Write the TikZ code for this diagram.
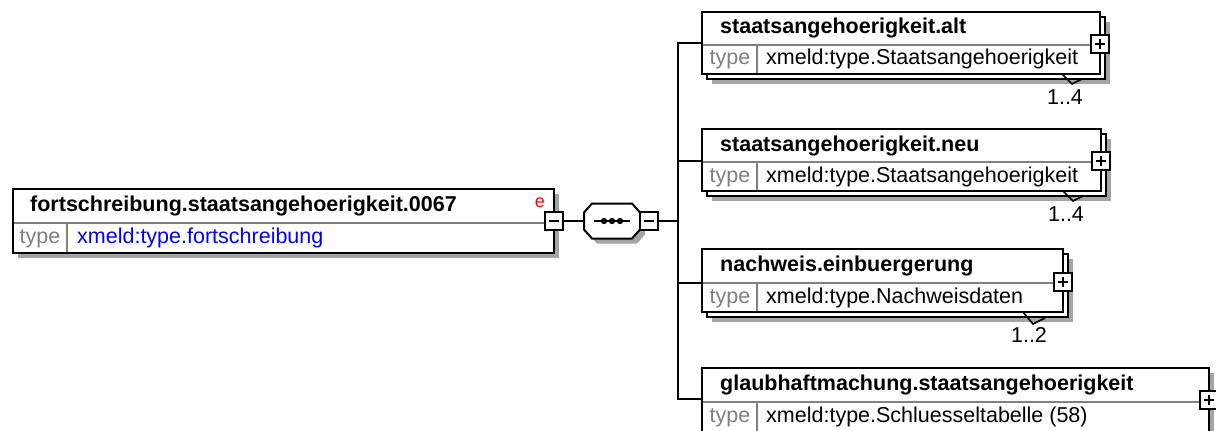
\documentclass[tikz,border=0pt]{standalone}
\usepackage{fontspec}
\setmainfont{Liberation Sans}
\usepackage{tikz}
\usetikzlibrary{positioning,shadows}
\definecolor{shadowgray}{RGB}{165,165,165}
\definecolor{typegray}{RGB}{128,128,128}
\definecolor{linegray}{RGB}{128,128,128}
\definecolor{xsdblue}{RGB}{0,0,255}

\begin{document}
\begin{tikzpicture}[
    x=1pt, y=-1pt,
    font=\fontsize{21.5}{26}\selectfont,
    elem/.style={rectangle, draw=black, fill=white, line width=2pt,
                 anchor=north west, inner sep=0pt, outer sep=0pt,
                 drop shadow={shadow xshift=5pt, shadow yshift=-5pt,
                              fill=shadowgray, opacity=1}},
    elemmulti/.style={rectangle, draw=black, fill=white, line width=2pt,
                 anchor=north west, inner sep=0pt, outer sep=0pt,
                 drop shadow={shadow xshift=10pt, shadow yshift=-10pt,
                              fill=shadowgray, opacity=1},
                 copy shadow={shadow xshift=5pt, shadow yshift=-5pt,
                              draw=black, fill=white, line width=2pt}},
    divider/.style={draw=linegray, line width=2pt, shorten <=1pt, shorten >=1pt},
    title/.style={anchor=base west, inner sep=0pt,
                  font=\fontsize{21.5}{26}\selectfont\bfseries},
    typelbl/.style={anchor=base, inner sep=0pt, text=typegray},
    typeval/.style={anchor=base west, inner sep=0pt},
    conn/.style={line width=2pt},
    minusbox/.style={rectangle, draw=black, fill=white, line width=2pt,
                 minimum size=18pt, inner sep=0pt, outer sep=0pt,
                 path picture={\draw[line width=2pt]
                   ([xshift=4pt]path picture bounding box.west) --
                   ([xshift=-4pt]path picture bounding box.east);}},
    plusbox/.style={rectangle, draw=black, fill=white, line width=2pt,
                 minimum size=18pt, inner sep=0pt, outer sep=0pt,
                 path picture={\draw[line width=2pt]
                   ([xshift=4pt]path picture bounding box.west) --
                   ([xshift=-4pt]path picture bounding box.east)
                   ([yshift=-4pt]path picture bounding box.north) --
                   ([yshift=4pt]path picture bounding box.south);}},
    seqbox/.style={rectangle, minimum width=56pt, minimum height=35pt,
                 inner sep=0pt, outer sep=0pt},
    seqoct/.style={draw=black, fill=white, line width=2pt,
                 drop shadow={shadow xshift=5pt, shadow yshift=-5pt,
                              fill=shadowgray, opacity=1}},
    mult/.style={line width=1.6pt},
    multlbl/.style={inner sep=0pt}
]
\useasboundingbox (0,0) rectangle (1216,431);
\clip (0,0) rectangle (1216,431);

% root element
\node[elem, minimum width=541pt, minimum height=64pt] (fortschr) at (13,189) {};
\draw[divider] ([yshift=-34pt]fortschr.north west) -- ([yshift=-34pt]fortschr.north east);
\draw[divider] ([shift={(54pt,-34pt)}]fortschr.north west) -- ([xshift=54pt]fortschr.south west);
\node[title] (fortschrname) at ([shift={(17pt,-22.5pt)}]fortschr.north west) {fortschreibung.staatsangehoerigkeit.0067};
\node[typelbl] (fortschrtype) at ([shift={(27pt,-54pt)}]fortschr.north west) {type};
\node[typeval, text=xsdblue] (fortschrval) at ([shift={(64pt,-54pt)}]fortschr.north west) {xmeld:type.fortschreibung};
\node[anchor=base east, inner sep=0pt, text=red, font=\fontsize{18}{20}\selectfont] (fortschre) at ([shift={(-9pt,-18pt)}]fortschr.north east) {e};
\node[minusbox] (fortschrmin) at ([yshift=-32pt]fortschr.north east) {};

% sequence compositor
\node[seqbox, right=21pt of fortschrmin] (seq) {};
\filldraw[seqoct] ([xshift=8pt]seq.north west) -- ([xshift=-8pt]seq.north east)
  -- ([yshift=-9pt]seq.north east) -- ([yshift=9pt]seq.south east)
  -- ([xshift=-8pt]seq.south east) -- ([xshift=8pt]seq.south west)
  -- ([yshift=9pt]seq.south west) -- ([yshift=-9pt]seq.north west) -- cycle;
\draw[line width=2pt] ([xshift=-18pt]seq.center) -- ([xshift=18pt]seq.center);
\fill ([xshift=-8pt]seq.center) circle (3.2pt);
\fill (seq.center) circle (3.2pt);
\fill ([xshift=8pt]seq.center) circle (3.2pt);
\node[minusbox, anchor=west] (seqmin) at (seq.east) {};
\draw[conn] (fortschrmin) -- (seq);
\coordinate[right=20pt of seqmin] (bus);
\draw[conn] (seqmin) -- (bus);

% child elements
\node[elemmulti, minimum width=398pt, minimum height=62pt] (alt) at (702,12) {};
\draw[divider] ([yshift=-33pt]alt.north west) -- ([yshift=-33pt]alt.north east);
\draw[divider] ([shift={(55pt,-33pt)}]alt.north west) -- ([xshift=55pt]alt.south west);
\node[title] (altname) at ([shift={(18pt,-21.5pt)}]alt.north west) {staatsangehoerigkeit.alt};
\node[typelbl] (alttype) at ([shift={(28pt,-52pt)}]alt.north west) {type};
\node[typeval] (altval) at ([shift={(64pt,-52pt)}]alt.north west) {xmeld:type.Staatsangehoerigkeit};
\node[plusbox] (altplus) at ([yshift=-32pt]alt.north east) {};
\draw[mult] ([xshift=-38pt]alt.south east) -- ++(10pt,-10pt) -- ++(10pt,5pt);
\node[multlbl] (altmult) at ([shift={(-35pt,-23pt)}]alt.south east) {1..4};

\node[elemmulti, minimum width=399pt, minimum height=62pt] (neu) at (702,129) {};
\draw[divider] ([yshift=-33pt]neu.north west) -- ([yshift=-33pt]neu.north east);
\draw[divider] ([shift={(55pt,-33pt)}]neu.north west) -- ([xshift=55pt]neu.south west);
\node[title] (neuname) at ([shift={(18pt,-22pt)}]neu.north west) {staatsangehoerigkeit.neu};
\node[typelbl] (neutype) at ([shift={(28pt,-53pt)}]neu.north west) {type};
\node[typeval] (neuval) at ([shift={(64pt,-53pt)}]neu.north west) {xmeld:type.Staatsangehoerigkeit};
\node[plusbox] (neuplus) at ([yshift=-32pt]neu.north east) {};
\draw[mult] ([xshift=-38pt]neu.south east) -- ++(10pt,-10pt) -- ++(10pt,5pt);
\node[multlbl] (neumult) at ([shift={(-35pt,-23pt)}]neu.south east) {1..4};

\node[elemmulti, minimum width=361pt, minimum height=63pt] (einb) at (702,249) {};
\draw[divider] ([yshift=-34pt]einb.north west) -- ([yshift=-34pt]einb.north east);
\draw[divider] ([shift={(55pt,-34pt)}]einb.north west) -- ([xshift=55pt]einb.south west);
\node[title] (einbname) at ([shift={(18pt,-22pt)}]einb.north west) {nachweis.einbuergerung};
\node[typelbl] (einbtype) at ([shift={(28pt,-54pt)}]einb.north west) {type};
\node[typeval] (einbval) at ([shift={(64pt,-54pt)}]einb.north west) {xmeld:type.Nachweisdaten};
\node[plusbox] (einbplus) at ([yshift=-33pt]einb.north east) {};
\draw[mult] ([xshift=-40pt]einb.south east) -- ++(10pt,-12pt) -- ++(12pt,6pt);
\node[multlbl] (einbmult) at ([shift={(-34pt,-23pt)}]einb.south east) {1..2};

\node[elem, minimum width=507pt, minimum height=75pt] (glaub) at (702,368) {};
\draw[divider] ([yshift=-34pt]glaub.north west) -- ([yshift=-34pt]glaub.north east);
\draw[divider] ([shift={(55pt,-34pt)}]glaub.north west) -- ([xshift=55pt]glaub.south west);
\node[title] (glaubname) at ([shift={(18pt,-22pt)}]glaub.north west) {glaubhaftmachung.staatsangehoerigkeit};
\node[typelbl] (glaubtype) at ([shift={(28pt,-54pt)}]glaub.north west) {type};
\node[typeval] (glaubval) at ([shift={(64pt,-54pt)}]glaub.north west) {xmeld:type.Schluesseltabelle (58)};
\node[plusbox] (glaubplus) at ([yshift=-32pt]glaub.north east) {};

% connectors to the children
\coordinate (altin) at ([yshift=-31pt]alt.north west);
\coordinate (neuin) at ([yshift=-32pt]neu.north west);
\coordinate (einbin) at ([yshift=-34pt]einb.north west);
\coordinate (glaubin) at ([yshift=-31pt]glaub.north west);
\draw[conn] (bus) |- (altin);
\draw[conn] (bus) |- (neuin);
\draw[conn] (bus) |- (einbin);
\draw[conn] (bus) |- (glaubin);
\end{tikzpicture}
\end{document}
